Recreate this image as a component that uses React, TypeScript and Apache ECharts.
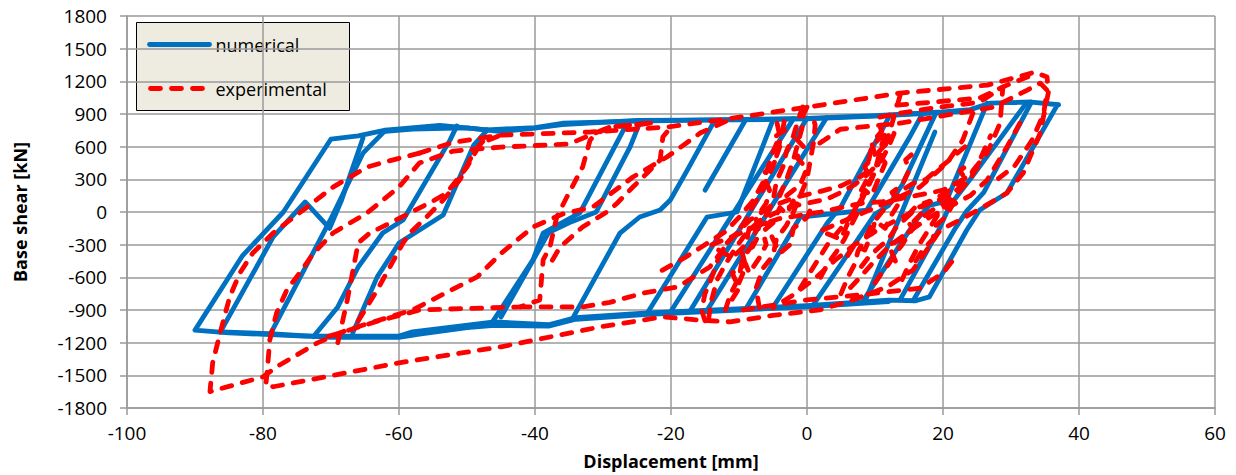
import React, { useEffect, useRef } from 'react';
import * as echarts from 'echarts';

type Pt = [number, number];

// ---------- axis settings ----------
const xMin = -100, xMax = 60, xStep = 20;
const yMin = -1800, yMax = 1800, yStep = 300;
const legendNames = ['numerical', 'experimental'];

// ---------- numerical (blue) ----------
const numEnvelope: Pt[] = [
  [37, 985], [33, 1010], [27, 1000], [24, 940], [20, 920], [10, 885], [0, 860], [-10, 850], [-25, 835],
  [-36, 815], [-40, 775], [-47, 755], [-54, 795], [-62, 752], [-66, 700], [-70, 670], [-77, 0], [-83, -400],
  [-90, -1085], [-85, -1110], [-74, -1140], [-60, -1140], [-58, -1100], [-46, -1010], [-38, -1035],
  [-34, -970], [-24, -930], [-16, -905], [0, -860], [12, -810], [16, -815], [18, -780], [23.5, -165],
  [25.4, 18], [29.4, 174], [36.8, 982], [37, 985],
];
const numPlateauLow: Pt[] = [
  [-86, -1100], [-79, -1118], [-70, -1152], [-60, -1152], [-57, -1122], [-50, -1062], [-46, -1042],
  [-38, -1048], [-34, -985], [-24, -942], [-10, -900], [0, -872], [12, -822],
];
const numPlateauHigh: Pt[] = [
  [-62, 740], [-58, 762], [-50, 772], [-45, 738], [-40, 770], [-36, 802], [-25, 842], [-10, 846],
  [0, 855], [10, 880], [20, 912], [24, 932],
];
const numBranchA: Pt[] = [[15.6, -815], [21.8, -150], [23.5, 10], [26, 180], [33, 1008]];
const numBranchB: Pt[] = [[13.7, -805], [19.5, -150], [21, 60], [24, 300], [32.3, 1005]];
const numBranchC: Pt[] = [[8.1, -830], [16, -80], [18, 60], [20.5, 100], [21.5, 250], [26.5, 1000]];
const numBranchD: Pt[] = [[8.5, -825], [18.8, 734]];
const numBranchE: Pt[] = [[0.9, -855], [10, -20], [12, 60], [14, 250], [19, 915]];
const numBranchF: Pt[] = [[-9, -890], [-1, -46], [8.8, 18], [15.1, 688], [17, 905]];
const numBranchG: Pt[] = [[-5, -875], [3, -100], [5, 50], [12.2, 890]];
const numBranchH: Pt[] = [[-14.7, -905], [2.9, 868]];
const numBranchI: Pt[] = [[-17.2, -910], [0, 860]];
const numBranchJ: Pt[] = [[-20.1, -920], [-2, 855]];
const numBranchK: Pt[] = [[-23.5, -930], [-14.7, -46], [-10.3, 0], [-5, 845]];
const numBranchShort: Pt[] = [[-15, 200], [-9, 850]];
const numBranchL: Pt[] = [[-34.4, -970], [-27.5, -193], [-24.6, -46], [-21.6, 18], [-20.1, 110], [-17.6, 385], [-13.8, 816], [-13.3, 840]];
const numBranchM: Pt[] = [[-45, -965], [-38, -190], [-35, -100], [-31, 0], [-26, 600], [-24.5, 835]];
const numBranchN: Pt[] = [[-46.2, -1005], [-40.3, -440], [-38.8, -193], [-33.4, -9], [-27, 752], [-26.5, 830]];
const numBranchO: Pt[] = [[-66.8, -1110], [-63.2, -596], [-61.3, -413], [-60, -284], [-53.5, -27], [-49, 615], [-47, 755]];
const numBranchP: Pt[] = [[-72.6, -1145], [-69, -872], [-66, -505], [-62.4, -193], [-59.4, -73], [-52.5, 660], [-51.5, 790]];
const numBranchQ: Pt[] = [[-79, -1130], [-70.1, -73], [-65.3, 541], [-62, 750]];
const numBranchR: Pt[] = [[-86.3, -1105], [-78.5, -229], [-73.8, 92], [-70.2, -150], [-68.5, 100], [-65.3, 680]];

const numericalSegments: Pt[][] = [
  numEnvelope, numPlateauLow, numPlateauHigh, numBranchA, numBranchB, numBranchC, numBranchD,
  numBranchE, numBranchF, numBranchG, numBranchH, numBranchI, numBranchJ, numBranchK, numBranchShort,
  numBranchL, numBranchM, numBranchN, numBranchO, numBranchP, numBranchQ, numBranchR,
];

// ---------- experimental (red) ----------
const expOuter: Pt[] = [
  [-57, 541], [-52, 640], [-45, 706], [-32, 734], [-20.6, 780], [-10.9, 862], [0, 963], [13.7, 1092],
  [26.5, 1165], [33.5, 1284], [35.3, 1240], [35.5, 1100], [34.3, 725], [31.8, 358], [29.4, 174],
  [25.9, 46], [22.5, -73], [19.6, -165], [15.6, -532], [11.8, -688], [6.8, -807], [1.9, -899], [-5, -950],
  [-11.3, -1009], [-16.2, -991], [-21.2, -963], [-30.4, -1055], [-45, -1238], [-60, -1385], [-78.5, -1605],
  [-79.6, -1600], [-79.4, -1477], [-79, -1174], [-78, -927], [-76.5, -716], [-74.6, -560], [-72.6, -380],
  [-69.7, -193], [-64.7, -9], [-60, 229], [-57, 450], [-52, 560], [-45, 596], [-35, 625], [-29, 780], [-23, 816],
];
const expLeftLoop: Pt[] = [
  [-57, 541], [-61, 477], [-64.7, 413], [-69.7, 229], [-73.5, 46], [-76, -73], [-78.5, -193], [-81.5, -376],
  [-83.4, -560], [-84.9, -780], [-86.3, -1110], [-87.4, -1385], [-87.8, -1650], [-80, -1514], [-78, -1422],
  [-72, -1202], [-67.6, -1083], [-58, -899], [-48.5, -596], [-45, -380], [-40.3, -138], [-36, -20],
  [-31.5, 46], [-25.6, 321], [-20.6, 505], [-15.7, 725], [-10.9, 862],
];
const expS1: Pt[] = [
  [-69, -1200], [-67.6, -807], [-66, -284], [-64.3, -193], [-61.3, -101], [-58.4, -9], [-55, 100],
  [-53, 174], [-50, 413], [-48, 633], [-45, 706],
];
const expS2: Pt[] = [
  [-66, -1000], [-63.2, -716], [-59.4, -284], [-58.4, -193], [-56, -50], [-53.5, 110], [-51, 300],
  [-49, 550], [-47.5, 660],
];
const expRE: Pt[] = [
  [-23, 816], [-29, 780], [-31, 720], [-31.9, 660], [-33, 413], [-35.3, 140], [-36.8, -46], [-37.8, -321],
  [-38.8, -440], [-39.3, -807], [-42.2, -872], [-56.9, -899], [-63, -1000], [-70.6, -1147],
];
const expRG: Pt[] = [
  [-42.2, -872], [-33, -872], [-29, -830], [-24, -743], [-19, -688], [-14.3, -505], [-11.3, -257],
  [-8.4, -73], [-5.4, 46], [-1.5, 138], [2, 190], [5, 240], [8, 330], [10, 420],
];
const expRF: Pt[] = [
  [-20.6, 734], [-21.2, 688], [-21.6, 477], [-23.5, 358], [-25.6, 229], [-27.9, 83], [-29, 18],
  [-33, -138], [-36.3, -321], [-38, -500],
];
const expTR1: Pt[] = [[13.2, 981], [25.4, 1046], [29.4, 1165], [33.8, 1275]];
const expTR2: Pt[] = [
  [1.9, 633], [4.9, 760], [13.7, 816], [27.4, 963], [32.4, 1119], [34.3, 1183], [35.3, 1119], [34.8, 900],
  [33, 650], [30.5, 420], [28, 300],
];
const expTR3: Pt[] = [
  [10.7, 872], [13.7, 908], [18.5, 954], [25.4, 1009], [28.8, 1147], [28.4, 816], [26.5, 541], [24, 350],
  [21, 200], [17, 50], [13, -80], [10, -180], [7, -300], [4, -450], [1, -620], [-2, -760], [-5, -880],
];
const expTR4: Pt[] = [
  [13.7, 1073], [13.2, 963], [11.8, 660], [10.3, 413], [8.8, 202], [6.8, -9], [5, -150], [3, -300],
  [1.5, -450], [0, -600], [-1, -700],
];
const expTR5: Pt[] = [
  [24.4, 908], [22.9, 660], [20.6, 450], [16.6, 229], [13, 120], [10, 40], [7, -40], [4, -120], [1, -200],
];
const expTR6: Pt[] = [
  [31.3, 816], [29.4, 596], [26.5, 294], [24, 150], [21, 50], [18, -50], [15, -180], [12, -320],
  [9.5, -480], [7.5, -620], [6, -720],
];
const expC1: Pt[] = [
  [-12, -900], [-11.3, -760], [-10, -600], [-9.5, -430], [-8, -300], [-7.5, -150], [-6, -30], [-5, 100],
  [-4.5, 280], [-3.5, 420], [-3, 560], [-2, 700], [-1.5, 800], [-0.8, 940], [-0.5, 980],
];
const expC2: Pt[] = [
  [-7, -880], [-7.5, -700], [-6.5, -520], [-5, -400], [-4.5, -250], [-3, -120], [-2, 0], [-1, 150],
  [0, 300], [0.5, 480], [1, 650], [1.2, 800], [0.8, 880],
];
const expC3: Pt[] = [
  [-14.5, -990], [-14, -800], [-13.2, -620], [-12, -480], [-10.5, -330], [-9, -200], [-7, -80], [-5, -20],
  [-3, 40], [0, 80], [3, 120], [5, 180], [7, 250], [9, 350], [11, 480], [12, 600], [12.8, 720], [13, 800],
];
const expC4: Pt[] = [
  [2, -600], [3, -480], [4.5, -350], [5.5, -250], [6.5, -120], [7.5, 0], [8, 100], [9, 250], [10, 380],
  [10.5, 500], [11, 620], [11.5, 720], [12, 760],
];
const expC5: Pt[] = [
  [5, -750], [6, -600], [7, -480], [7.5, -360], [8.5, -250], [9.5, -120], [11, 0], [12.5, 100], [14, 200],
  [15.5, 260], [17.5, 300], [19, 380], [21, 480], [22.5, 560], [24, 640],
];
const expC6: Pt[] = [
  [-14, -300], [-10, -200], [-7, -120], [-4, -60], [-1, -30], [2, 0], [5, 40], [8, 80], [12, 100],
  [16, 150], [20, 200], [23, 300], [25, 400],
];
const expC7: Pt[] = [
  [8, -500], [9, -420], [10.5, -330], [12, -250], [13, -150], [14.5, -60], [16, 30], [18, 90], [20, 120], [22, 180],
];
const expC8: Pt[] = [
  [10, -650], [11, -560], [12, -480], [13, -380], [14, -300], [15, -200], [16.5, -80], [18, 0], [19.5, 60], [21, 100],
];
const expC9: Pt[] = [
  [14, -620], [15, -480], [16.5, -300], [18, -150], [19.5, 0], [21, 100], [22.5, 200], [24, 300],
  [25, 420], [26, 560], [27, 700],
];
const expC14: Pt[] = [
  [-15, -1000], [-15.5, -900], [-15, -750], [-14, -600], [-13, -420], [-12, -300], [-10.5, -200], [-9, -80],
  [-8, 50], [-6.5, 200], [-5.5, 350], [-4.5, 500], [-4, 650], [-3.5, 780], [-3.3, 850],
];
const expC15: Pt[] = [
  [-4.4, 816], [-4, 700], [-5, 550], [-6.5, 266], [-8, 100], [-10, -50], [-12, -180], [-15, -300], [-18, -420], [-22, -560],
];
const expC16: Pt[] = [[0, 963], [-0.5, 900], [-0.7, 780], [-2, 477], [-3, 300], [-4, 150]];
const expC17: Pt[] = [[-9.4, -899], [0, -807], [8, -760], [16.6, -700], [20, -560], [22, -400]];
const expC18: Pt[] = [
  [-10, -650], [-9, -500], [-9.5, -380], [-8, -320], [-7, -200], [-7.5, -60], [-6, 80], [-5.5, 200],
  [-6.5, 350], [-5, 420], [-4, 600], [-4.5, 700], [-3, 760],
];
const expC19: Pt[] = [
  [-13, -350], [-11, -420], [-9, -300], [-8.5, -150], [-6, -100], [-5, -250], [-4, -380], [-2.5, -300],
  [-2, -150], [0, -50], [1, 100],
];
const expC20: Pt[] = [
  [3, -200], [5, -250], [6, -100], [7.5, 80], [8.5, 200], [9.5, 150], [10.5, 300], [11.5, 450], [10.5, 550],
  [12, 650], [11, 700], [9.5, 600], [9, 450],
];
const expC21: Pt[] = [
  [13, -450], [12, -300], [14, -250], [15.5, -150], [14.5, -50], [16, 50], [18, 100], [17, 0], [15.5, -100],
];
const expC22: Pt[] = [[-3, 150], [-1, 250], [0, 400], [-1.5, 500], [-0.5, 600], [-2, 700]];
const expC23: Pt[] = [
  [6, -400], [7, -300], [8.5, -350], [9.5, -200], [10, -80], [11.5, -150], [12.5, -20], [13.5, 80],
  [12.5, 180], [14, 250], [15, 380], [14.5, 480], [16, 560],
];
const expC24: Pt[] = [
  [16, -450], [17, -350], [18.5, -250], [19, -120], [20.5, -40], [21.5, 80], [22, 200], [23.5, 280],
  [22.5, 380], [24, 450],
];
const expC25: Pt[] = [
  [-11, -800], [-10, -700], [-11, -560], [-9, -480], [-8.5, -560], [-7, -420], [-6, -300], [-6.5, -180],
  [-5, -100], [-4, 40], [-3, -20], [-2, 100],
];
const expC26: Pt[] = [[8, 200], [9, 320], [8.5, 420], [10, 520], [9.5, 640], [11, 740], [10.5, 820]];

const experimentalSegments: Pt[][] = [
  expOuter, expLeftLoop, expS1, expS2, expRE, expRG, expRF, expTR1, expTR2, expTR3, expTR4, expTR5, expTR6,
  expC1, expC2, expC3, expC4, expC5, expC6, expC7, expC8, expC9, expC14, expC15, expC16, expC17,
  expC18, expC19, expC20, expC21, expC22, expC23, expC24, expC25, expC26,
];

const FONT = '"Open Sans", "Liberation Sans", sans-serif';
const BLUE = '#0070C0';
const RED = '#FF0000';
const GRID = '#9A9A9A';
const LINE_W = 4.8;
const DASH = [10, 11];

export default function App() {
  const ref = useRef<HTMLDivElement>(null);
  useEffect(() => {
    if (!ref.current) return;
    const chart = echarts.init(ref.current, undefined, { renderer: 'svg' });
    const blueSeries = numericalSegments.map((seg) => ({
      type: 'line',
      name: legendNames[0],
      data: seg,
      showSymbol: false,
      symbol: 'none',
      silent: true,
      z: 2,
      itemStyle: { color: BLUE },
      lineStyle: { color: BLUE, width: LINE_W, join: 'round', cap: 'round' },
    }));
    const redSeries = experimentalSegments.map((seg) => ({
      type: 'line',
      name: legendNames[1],
      data: seg,
      showSymbol: false,
      symbol: 'none',
      silent: true,
      z: 3,
      itemStyle: { color: RED },
      lineStyle: { color: RED, width: LINE_W, type: DASH, join: 'round', cap: 'round' },
    }));
    chart.setOption({
      animation: false,
      backgroundColor: '#ffffff',
      grid: { left: 127, right: 21, top: 16, bottom: 67, containLabel: false },
      legend: { show: false },
      graphic: [
        {
          type: 'group',
          left: 136,
          top: 22,
          z: 100,
          children: [
            {
              type: 'rect',
              shape: { x: 0, y: 0, width: 213, height: 88 },
              style: { fill: '#EEECE1', stroke: '#000000', lineWidth: 1 },
            },
            {
              type: 'line',
              shape: { x1: 13, y1: 22, x2: 73, y2: 22 },
              style: { stroke: BLUE, lineWidth: LINE_W, lineCap: 'round' },
            },
            {
              type: 'text',
              x: 79,
              y: 22,
              style: { text: legendNames[0], fill: '#000', fontSize: 18, fontFamily: FONT, verticalAlign: 'middle', align: 'left' },
            },
            {
              type: 'line',
              shape: { x1: 14, y1: 66, x2: 66, y2: 66 },
              style: { stroke: RED, lineWidth: LINE_W, lineCap: 'round', lineDash: DASH },
            },
            {
              type: 'text',
              x: 79,
              y: 66,
              style: { text: legendNames[1], fill: '#000', fontSize: 18, fontFamily: FONT, verticalAlign: 'middle', align: 'left' },
            },
          ],
        },
      ],
      xAxis: {
        type: 'value',
        min: xMin,
        max: xMax,
        interval: xStep,
        name: 'Displacement [mm]',
        nameLocation: 'middle',
        nameGap: 44,
        nameTextStyle: { fontSize: 18, fontWeight: 'bold', fontFamily: FONT, color: '#000' },
        axisLine: { show: true, onZero: false, lineStyle: { color: GRID, width: 1.5 } },
        axisTick: { show: true, length: 7, lineStyle: { color: GRID, width: 1.5 } },
        splitLine: { show: true, lineStyle: { color: GRID, width: 1.5 } },
        axisLabel: { fontSize: 19, fontFamily: FONT, color: '#000', margin: 15, formatter: (v: number) => String(v) },
      },
      yAxis: {
        type: 'value',
        min: yMin,
        max: yMax,
        interval: yStep,
        name: 'Base shear [kN]',
        nameLocation: 'middle',
        nameRotate: 90,
        nameGap: 98,
        nameTextStyle: { fontSize: 18, fontWeight: 'bold', fontFamily: FONT, color: '#000' },
        axisLine: { show: true, onZero: false, lineStyle: { color: GRID, width: 1.5 } },
        axisTick: { show: true, length: 7, lineStyle: { color: GRID, width: 1.5 } },
        splitLine: { show: true, lineStyle: { color: GRID, width: 1.5 } },
        axisLabel: { fontSize: 19, fontFamily: FONT, color: '#000', margin: 20, formatter: (v: number) => String(v) },
      },
      series: [...blueSeries, ...redSeries],
    });
    return () => chart.dispose();
  }, []);
  return <div ref={ref} style={{ position: 'fixed', left: 0, top: 0, width: 1236, height: 475 }} />;
}
